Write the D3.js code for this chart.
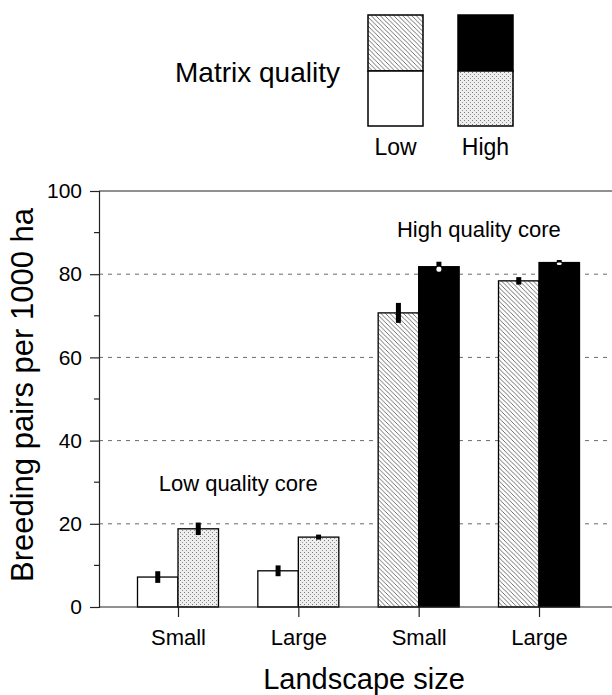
<!DOCTYPE html>
<html>
<head>
<meta charset="utf-8">
<script src="https://cdn.jsdelivr.net/npm/d3@7"></script>
<style>
  body { margin: 0; background: #fff; }
  svg text { font-family: "Liberation Sans", Arial, Helvetica, sans-serif; fill: #000; }
</style>
</head>
<body>
<div class="chart"></div>
<script>
var width = 612,
    height = 695;

// data
var landscapeSizes = ["Small", "Large", "Small", "Large"];
var coreLabels = ["Low quality core", "High quality core"];
var lowMatrix = [7.2, 8.7, 70.7, 78.4];
var highMatrix = [18.8, 16.8, 81.8, 82.8];
var lowMatrixErr = [1.4, 1.3, 2.4, 0.9];
var highMatrixErr = [1.5, 0.6, 1.2, 0.6];
var yTicks = [0, 20, 40, 60, 80, 100];
var yMinorTicks = [10, 30, 50, 70, 90];

var groups = landscapeSizes.map((d, i) => i);

var svg = d3.select('.chart')
    .append('svg')
        .attr('width', width)
        .attr('height', height);

var defs = svg.append('defs');

// diagonal hatch (\\\)
var hatch = defs.append('pattern')
    .attr('id', 'hatch')
    .attr('patternUnits', 'userSpaceOnUse')
    .attr('width', 4.5)
    .attr('height', 4.5);
hatch.append('rect').attr('width', 4.5).attr('height', 4.5).attr('fill', '#fff');
hatch.append('path')
    .attr('d', 'M0,0L4.5,4.5M-1,3.5L1,5.5M3.5,-1L5.5,1')
    .attr('stroke', '#222')
    .attr('stroke-width', 0.65);

// stipple
var stipple = defs.append('pattern')
    .attr('id', 'stipple')
    .attr('patternUnits', 'userSpaceOnUse')
    .attr('width', 4)
    .attr('height', 4);
stipple.append('rect').attr('width', 4).attr('height', 4).attr('fill', '#eeeeee');
stipple.append('rect').attr('x', 0).attr('y', 0).attr('width', 1).attr('height', 1).attr('fill', '#7a7a7a');
stipple.append('rect').attr('x', 2).attr('y', 2).attr('width', 1).attr('height', 1).attr('fill', '#909090');

var x0 = d3.scalePoint()
    .domain(groups)
    .range([178, 539]);

var x1 = d3.scaleBand()
    .domain(['low', 'high'])
    .range([-40.5, 40.5]);

var y = d3.scaleLinear()
    .domain([0, 100])
    .range([607, 191]);

var left = 99, right = 612;

// gridlines
svg.append('g')
    .selectAll('line')
    .data(yTicks.filter(t => t > 0 && t < 100))
    .enter()
    .append('line')
    .attr('x1', left).attr('x2', right)
    .attr('y1', d => y(d)).attr('y2', d => y(d))
    .attr('stroke', '#6a6a6a')
    .attr('stroke-width', 1)
    .attr('stroke-dasharray', '4,5');

// top frame line
svg.append('line')
    .attr('x1', left).attr('x2', right)
    .attr('y1', y(100)).attr('y2', y(100))
    .attr('stroke', '#222').attr('stroke-width', 1.2);

// y axis
var yAxis = svg.append('g')
    .attr('transform', `translate(${left},0)`)
    .call(d3.axisLeft(y).tickValues(yTicks).tickSize(9).tickPadding(8));
yAxis.select('.domain').attr('stroke', '#222').attr('stroke-width', 1.2);
yAxis.selectAll('.tick line').attr('stroke', '#222').attr('stroke-width', 1.2);
yAxis.selectAll('.tick text')
    .attr('font-size', 21)
    .attr('font-family', '"Liberation Sans", Arial, sans-serif')
    .attr('fill', '#000');

svg.append('g')
    .selectAll('line')
    .data(yMinorTicks)
    .enter()
    .append('line')
    .attr('x1', left - 5).attr('x2', left)
    .attr('y1', d => y(d)).attr('y2', d => y(d))
    .attr('stroke', '#222').attr('stroke-width', 1.2);

// bars
var series = [
    {key: 'low', values: lowMatrix, errs: lowMatrixErr},
    {key: 'high', values: highMatrix, errs: highMatrixErr}
];

function barFill(key, g) {
    var highCore = g >= 2;
    if (key === 'low') return highCore ? 'url(#hatch)' : '#fff';
    return highCore ? '#000' : 'url(#stipple)';
}

var barData = [];
groups.forEach(g => {
    series.forEach(s => {
        barData.push({g: g, key: s.key, v: s.values[g], e: s.errs[g]});
    });
});

svg.append('g')
    .selectAll('.bar')
    .data(barData)
    .enter()
    .append('rect')
    .classed('bar', true)
    .attr('x', d => x0(d.g) + x1(d.key))
    .attr('y', d => y(d.v))
    .attr('width', x1.bandwidth())
    .attr('height', d => y(0) - y(d.v))
    .attr('fill', d => barFill(d.key, d.g))
    .attr('stroke', '#000')
    .attr('stroke-width', 1.3);

// error bars
var errG = svg.append('g');
barData.forEach(d => {
    var cx = x0(d.g) + x1(d.key) + x1.bandwidth() / 2;
    var dark = d.key === 'high' && d.g >= 2;
    if (!dark) {
        errG.append('rect')
            .attr('x', cx - 2.5)
            .attr('y', y(d.v + d.e))
            .attr('width', 5)
            .attr('height', y(d.v - d.e) - y(d.v + d.e))
            .attr('fill', '#000');
    } else {
        errG.append('rect')
            .attr('x', cx - 2.5)
            .attr('y', y(d.v + d.e))
            .attr('width', 5)
            .attr('height', y(d.v) - y(d.v + d.e))
            .attr('fill', '#000');
        errG.append('rect')
            .attr('x', cx - 2.5)
            .attr('y', y(d.v))
            .attr('width', 5)
            .attr('height', y(d.v - d.e) - y(d.v))
            .attr('rx', 2)
            .attr('fill', '#fff');
    }
});

// x axis
var xAxis = svg.append('g')
    .attr('transform', `translate(0,${y(0)})`)
    .call(d3.axisBottom(x0).tickSize(10).tickPadding(12).tickFormat(i => landscapeSizes[i]));
xAxis.select('.domain').remove();
xAxis.selectAll('.tick line').attr('stroke', '#222').attr('stroke-width', 1.2);
xAxis.selectAll('.tick text')
    .attr('font-size', 22)
    .attr('font-family', '"Liberation Sans", Arial, sans-serif')
    .attr('fill', '#000');

svg.append('line')
    .attr('x1', left).attr('x2', right)
    .attr('y1', y(0)).attr('y2', y(0))
    .attr('stroke', '#222').attr('stroke-width', 1.2);

// core labels
svg.append('text')
    .attr('x', (x0(0) + x0(1)) / 2)
    .attr('y', 491)
    .attr('text-anchor', 'middle')
    .attr('font-size', 22)
    .text(coreLabels[0]);

svg.append('text')
    .attr('x', (x0(2) + x0(3)) / 2)
    .attr('y', 237)
    .attr('text-anchor', 'middle')
    .attr('font-size', 22)
    .text(coreLabels[1]);

// axis titles
svg.append('text')
    .attr('transform', 'translate(33,395) rotate(-90)')
    .attr('text-anchor', 'middle')
    .attr('font-size', 31)
    .text('Breeding pairs per 1000 ha');

svg.append('text')
    .attr('x', 364)
    .attr('y', 689)
    .attr('text-anchor', 'middle')
    .attr('font-size', 29)
    .text('Landscape size');

// legend
var legend = svg.append('g');
legend.append('text')
    .attr('x', 175)
    .attr('y', 82)
    .attr('font-size', 28)
    .text('Matrix quality');

var legendItems = [
    {label: 'Low', x: 368, top: 'url(#hatch)', bottom: '#fff'},
    {label: 'High', x: 458, top: '#000', bottom: 'url(#stipple)'}
];
legendItems.forEach(it => {
    legend.append('rect')
        .attr('x', it.x).attr('y', 15).attr('width', 55).attr('height', 56)
        .attr('fill', it.top).attr('stroke', '#000').attr('stroke-width', 1.5);
    legend.append('rect')
        .attr('x', it.x).attr('y', 71).attr('width', 55).attr('height', 55)
        .attr('fill', it.bottom).attr('stroke', '#000').attr('stroke-width', 1.5);
    legend.append('text')
        .attr('x', it.x + 27.5)
        .attr('y', 155)
        .attr('text-anchor', 'middle')
        .attr('font-size', 23)
        .text(it.label);
});
</script>
</body>
</html>
